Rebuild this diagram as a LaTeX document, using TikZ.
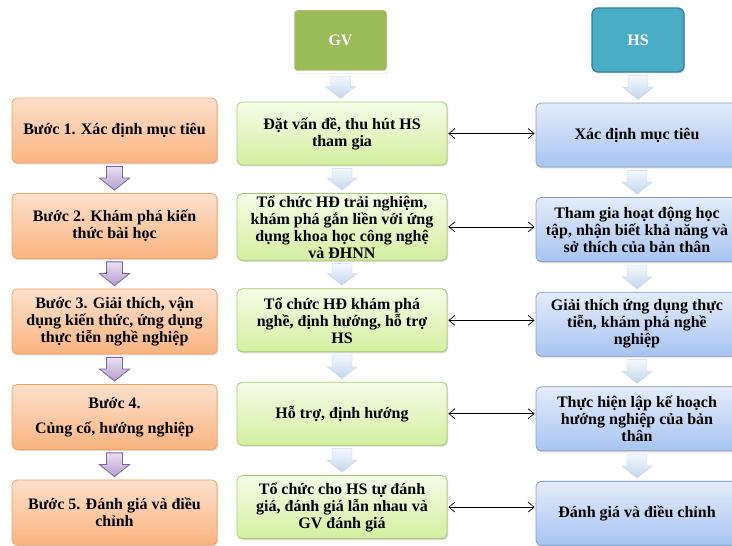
\documentclass[tikz,border=0pt]{standalone}
\usepackage{fontspec}
\setmainfont{Liberation Serif}
\usetikzlibrary{positioning,calc,shadows,arrows.meta}

\definecolor{stepTop}{RGB}{253,224,204}
\definecolor{stepBot}{RGB}{250,180,128}
\definecolor{stepLine}{RGB}{245,160,95}
\definecolor{gvTop}{RGB}{246,252,232}
\definecolor{gvBot}{RGB}{212,239,160}
\definecolor{gvLine}{RGB}{165,205,105}
\definecolor{hsTop}{RGB}{228,236,250}
\definecolor{hsBot}{RGB}{168,196,242}
\definecolor{hsLine}{RGB}{135,160,200}
\definecolor{gvHead}{RGB}{155,187,89}
\definecolor{hsHead}{RGB}{75,172,198}
\definecolor{hsHeadLine}{RGB}{49,132,155}
\definecolor{arrPTop}{RGB}{232,224,242}
\definecolor{arrPBot}{RGB}{180,160,205}
\definecolor{arrPLine}{RGB}{128,100,162}
\definecolor{arrBTop}{RGB}{244,248,253}
\definecolor{arrBBot}{RGB}{195,213,238}
\definecolor{arrBLine}{RGB}{200,214,236}

% block arrow from one box down to the next
\newcommand{\blockarrow}[4]{%
  \path[#1] let \p1=(#2.south), \p2=(#3.north) in
    (\x1-#4,\y1-3pt) -- (\x1+#4,\y1-3pt) -- (\x1+#4,\y2+15pt)
    -- (\x1+15pt,\y2+15pt) -- (\x1,\y2+3pt) -- (\x1-15pt,\y2+15pt)
    -- (\x1-#4,\y2+15pt) -- cycle;}

\begin{document}
\begin{tikzpicture}[x=1pt,y=1pt,on grid,
  box/.style={rounded corners=5pt,align=center,inner sep=2pt,
    font=\fontsize{16}{17}\selectfont\bfseries,
    drop shadow={shadow xshift=1pt,shadow yshift=-1.5pt,opacity=0.3}},
  stepbox/.style={box,minimum width=205pt,minimum height=65pt,
    top color=stepTop,bottom color=stepBot,draw=stepLine,line width=0.8pt},
  gvbox/.style={box,minimum width=210pt,minimum height=63pt,
    top color=gvTop,bottom color=gvBot,draw=gvLine,line width=0.8pt},
  hsbox/.style={box,minimum width=202pt,minimum height=64pt,
    top color=hsTop,bottom color=hsBot,draw=hsLine,line width=0.8pt},
  gvtitle/.style={box,minimum width=95pt,minimum height=63pt,rounded corners=4pt,
    fill=gvHead,draw=white,line width=2.5pt,text=white},
  hstitle/.style={box,minimum width=92pt,minimum height=64pt,rounded corners=6pt,
    fill=hsHead,draw=hsHeadLine,line width=1.2pt,text=white},
  purplearrow/.style={draw=arrPLine,line width=0.8pt,top color=arrPTop,bottom color=arrPBot},
  bluearrow/.style={draw=arrBLine,line width=0.4pt,top color=arrBTop,bottom color=arrBBot},
  link/.style={{Straight Barb[length=6pt,width=10pt]}-{Straight Barb[length=6pt,width=10pt]},
    line width=0.7pt,shorten <=1pt,shorten >=1pt}]
  \useasboundingbox (0,0) rectangle (732,546);

  % headers
  \node[gvtitle] (gv) at (340.5,505.5) {GV};
  \node[hstitle] (hs) at (638,506) {HS};

  % steps
  \node[stepbox] (b1) at (114.5,415.5) {Bước 1. Xác định mục tiêu};
  \node[stepbox] (b2) [below=95.5pt of b1] {Bước 2. Khám phá kiến\\thức bài học};
  \node[stepbox] (b3) [below=95.5pt of b2] {Bước 3. Giải thích, vận\\dụng kiến thức, ứng dụng\\thực tiễn nghề nghiệp};
  \node[stepbox] (b4) [below=95.5pt of b3] {Bước 4.\\[8pt]Củng cố, hướng nghiệp};
  \node[stepbox] (b5) [below=95.5pt of b4] {Bước 5. Đánh giá và điều\\chỉnh};

  % teacher
  \node[gvbox] (m1) at (342,412.5) {Đặt vấn đề, thu hút HS\\tham gia};
  \node[gvbox] (m2) [below=93.4pt of m1] {Tổ chức HĐ trải nghiệm,\\khám phá gắn liền với ứng\\dụng khoa học công nghệ\\và ĐHNN};
  \node[gvbox] (m3) [below=93.4pt of m2] {Tổ chức HĐ khám phá\\nghề, định hướng, hỗ trợ\\HS};
  \node[gvbox] (m4) [below=93.4pt of m3] {Hỗ trợ, định hướng};
  \node[gvbox] (m5) [below=93.4pt of m4] {Tổ chức cho HS tự đánh\\giá, đánh giá lẫn nhau và\\GV đánh giá};

  % students
  \node[hsbox] (r1) at (637,411) {Xác định mục tiêu};
  \node[hsbox] (r2) [below=94.6pt of r1] {Tham gia hoạt động học\\tập, nhận biết khả năng và\\sở thích của bản thân};
  \node[hsbox] (r3) [below=94.6pt of r2] {Giải thích ứng dụng thực\\tiễn, khám phá nghề\\nghiệp};
  \node[hsbox] (r4) [below=94.6pt of r3] {Thực hiện lập kế hoạch\\hướng nghiệp của bản\\thân};
  \node[hsbox] (r5) [below=94.6pt of r4] {Đánh giá và điều chỉnh};

  % down arrows
  \foreach \a/\b in {b1/b2,b2/b3,b3/b4,b4/b5}
    \blockarrow{purplearrow}{\a}{\b}{8pt};
  \foreach \a/\b in {gv/m1,m1/m2,m2/m3,m3/m4,m4/m5,hs/r1,r1/r2,r2/r3,r3/r4,r4/r5}
    \blockarrow{bluearrow}{\a}{\b}{10pt};

  % teacher <-> students
  \foreach \i in {1,...,5}
    \draw[link] (m\i.east) -- (m\i.east -| r\i.west);
\end{tikzpicture}
\end{document}
